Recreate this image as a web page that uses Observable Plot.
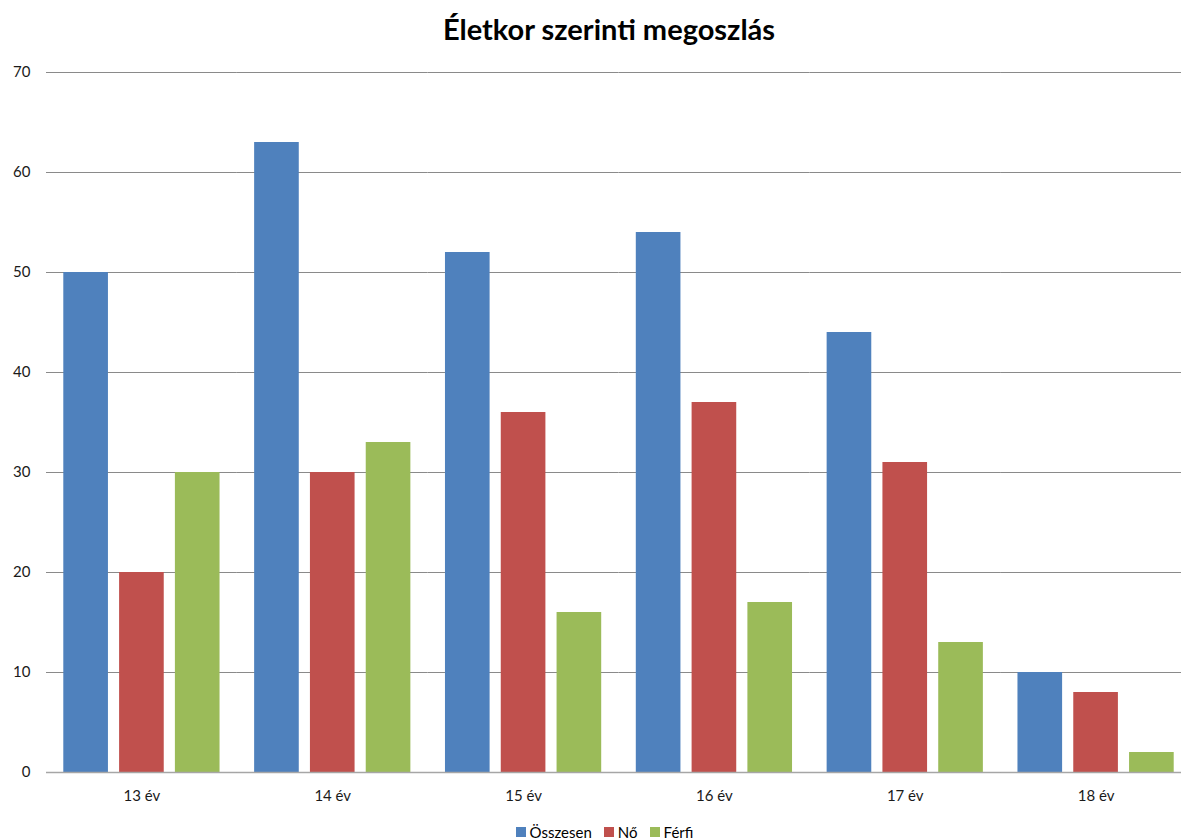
<!DOCTYPE html>
<html>
<head>
<meta charset="utf-8">
<script src="https://cdn.jsdelivr.net/npm/d3@7"></script>
<script src="https://cdn.jsdelivr.net/npm/@observablehq/plot@0.6"></script>
<style>
  html, body { margin: 0; padding: 0; background: #fff; overflow: hidden; }
  #wrap { position: relative; width: 1181px; height: 839px; }
  #title { position: absolute; left: 0; top: 11px; width: 1218px; text-align: center;
           font: bold 29px Lato, "Open Sans", sans-serif; color: #000; }
  #chart { position: absolute; left: 0; top: 62px; }
  #legend { position: absolute; left: 0; top: 823px; width: 1209px; display: flex; justify-content: center;
            font: 15px Lato, "Open Sans", sans-serif; color: #000; line-height: 18px; }
  #legend .item { display: flex; align-items: center; margin: 0 6px; }
  #legend .sw { width: 10px; height: 10px; margin-right: 4px; }
</style>
</head>
<body>
<div id="wrap">
  <div id="title">Életkor szerinti megoszlás</div>
  <div id="chart"></div>
  <div id="legend"></div>
</div>
<script>
// Age groups and the three series (total, women, men)
const ages = ["13 év", "14 év", "15 év", "16 év", "17 év", "18 év"];
const series = ["Összesen", "Nő", "Férfi"];
const osszesen = [50, 63, 52, 54, 44, 10];
const no = [20, 30, 36, 37, 31, 8];
const ferfi = [30, 33, 16, 17, 13, 2];
const yTicks = [0, 10, 20, 30, 40, 50, 60, 70];
const colors = ["#4F81BD", "#C0504D", "#9BBB59"];

const columns = [osszesen, no, ferfi];
const rows = [];
ages.forEach((age, i) => {
  series.forEach((s, j) => rows.push({age, series: s, value: columns[j][i]}));
});

const chart = Plot.plot({
  width: 1181,
  height: 750,
  marginTop: 10,
  marginBottom: 40,
  marginLeft: 46,
  marginRight: 0,
  style: {fontFamily: "Lato, 'Open Sans', sans-serif", fontSize: "15px", color: "#1a1a1a", background: "transparent"},
  fx: {domain: ages, range: [46, 1191], padding: 0, round: false, label: null},
  x: {domain: series, padding: 0.2, paddingOuter: 0.31, round: false, axis: null},
  y: {domain: [0, 70], label: null},
  color: {domain: series, range: colors},
  marks: [
    Plot.ruleY(yTicks, {stroke: "#8a8a8a", strokeWidth: 1}),
    Plot.barY(rows, {fx: "age", x: "series", y: "value", fill: "series"}),
    Plot.ruleY([0], {stroke: "#a6a6a6", strokeWidth: 1.5}),
    Plot.axisY({ticks: yTicks, tickSize: 0, tickPadding: 16, label: null, fontSize: 15}),
    Plot.axisFx({anchor: "bottom", tickSize: 0, tickPadding: 18, label: null, fontSize: 15})
  ]
});
document.getElementById("chart").appendChild(chart);

// Legend row below the chart
const legend = document.getElementById("legend");
series.forEach((s, j) => {
  const item = document.createElement("div");
  item.className = "item";
  const sw = document.createElement("span");
  sw.className = "sw";
  sw.style.background = colors[j];
  const label = document.createElement("span");
  label.textContent = s;
  item.appendChild(sw);
  item.appendChild(label);
  legend.appendChild(item);
});
</script>
</body>
</html>
